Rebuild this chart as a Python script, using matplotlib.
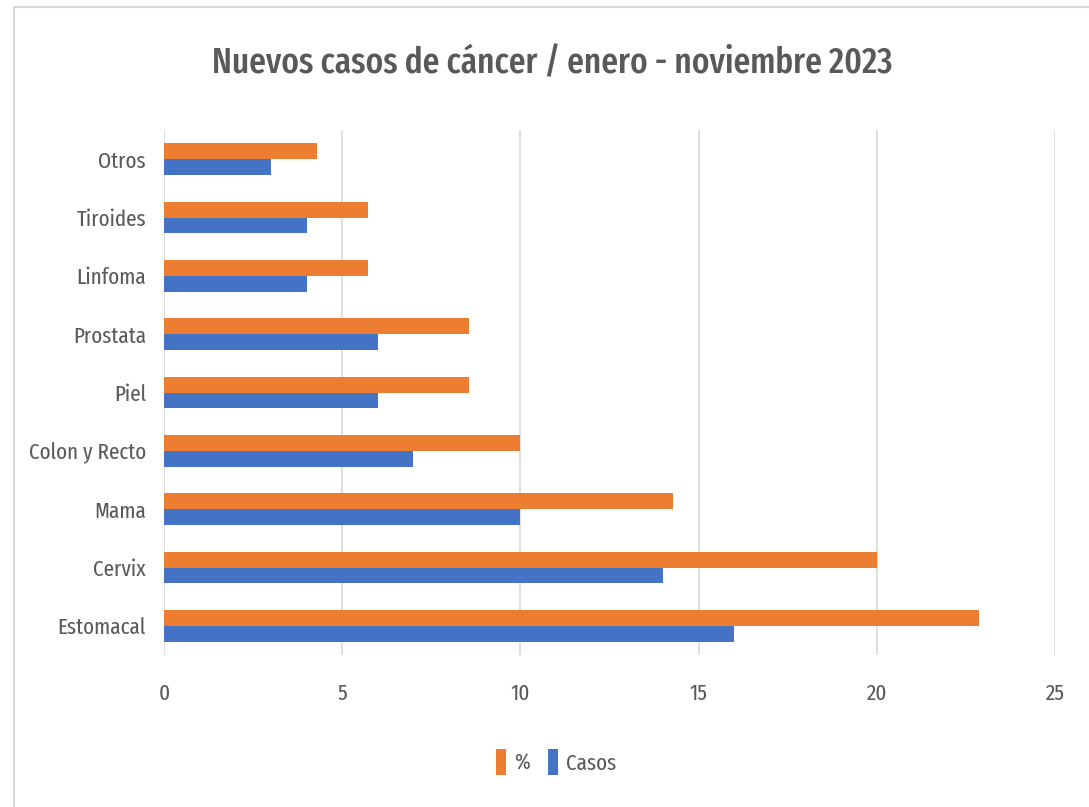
import matplotlib
matplotlib.use("Agg")
import matplotlib.pyplot as plt
import numpy as np

categories = ["Estomacal", "Cervix", "Mama", "Colon y Recto", "Piel", "Prostata", "Linfoma", "Tiroides", "Otros"]
casos = [16, 14, 10, 7, 6, 6, 4, 4, 3]
pct = [22.86, 20.0, 14.29, 10.0, 8.57, 8.57, 5.71, 5.71, 4.29]
xticks = [0, 5, 10, 15, 20, 25]

FAM = ["Fira Sans Extra Condensed", "DejaVu Sans"]
plt.rcParams["font.family"] = FAM

txt = "#595959"
grid = "#d9d9d9"
orange = "#ED7D31"
blue = "#4472C4"

fig = plt.figure(figsize=(10.89, 8.07), dpi=100)
fig.patches.append(plt.Rectangle((14/1089, -0.01), 1.1, 1 - 7/807 + 0.01, transform=fig.transFigure,
                                 fill=False, edgecolor=grid, linewidth=1.5))
ax = fig.add_axes([164/1089, 1 - 655/807, (1055 - 164)/1089, (655 - 130)/807])

y = np.arange(len(categories))
h = 0.27
ax.barh(y - h/2, casos, height=h, color=blue, label="Casos", zorder=3)
ax.barh(y + h/2, pct, height=h, color=orange, label="%", zorder=3)

ax.set_xlim(0, 25)
ax.set_ylim(-0.5, len(categories) - 0.5)
ax.set_xticks(xticks)
ax.set_xticklabels([str(t) for t in xticks])
ax.set_yticks(y)
ax.set_yticklabels(categories)
ax.tick_params(axis="both", length=0, labelsize=16.5, colors=txt)
ax.tick_params(axis="x", pad=20)
ax.tick_params(axis="y", pad=13)
ax.grid(axis="x", color=grid, linewidth=1.2, zorder=0)
for s in ax.spines.values():
    s.set_visible(False)

fig.text(552/1089, 1 - 63/807, "Nuevos casos de cáncer / enero - noviembre 2023",
         ha="center", va="center", fontsize=26, color=txt, fontweight="medium")

handles, labels = ax.get_legend_handles_labels()
leg = fig.legend(handles[::-1], labels[::-1], loc="center", bbox_to_anchor=(556/1089, 1 - 762/807),
                 ncol=2, frameon=False, fontsize=16.5, handlelength=0.45, handleheight=1.4,
                 handletextpad=0.35, columnspacing=0.8)
for t in leg.get_texts():
    t.set_color(txt)

fig.savefig("out.png", dpi=100)
